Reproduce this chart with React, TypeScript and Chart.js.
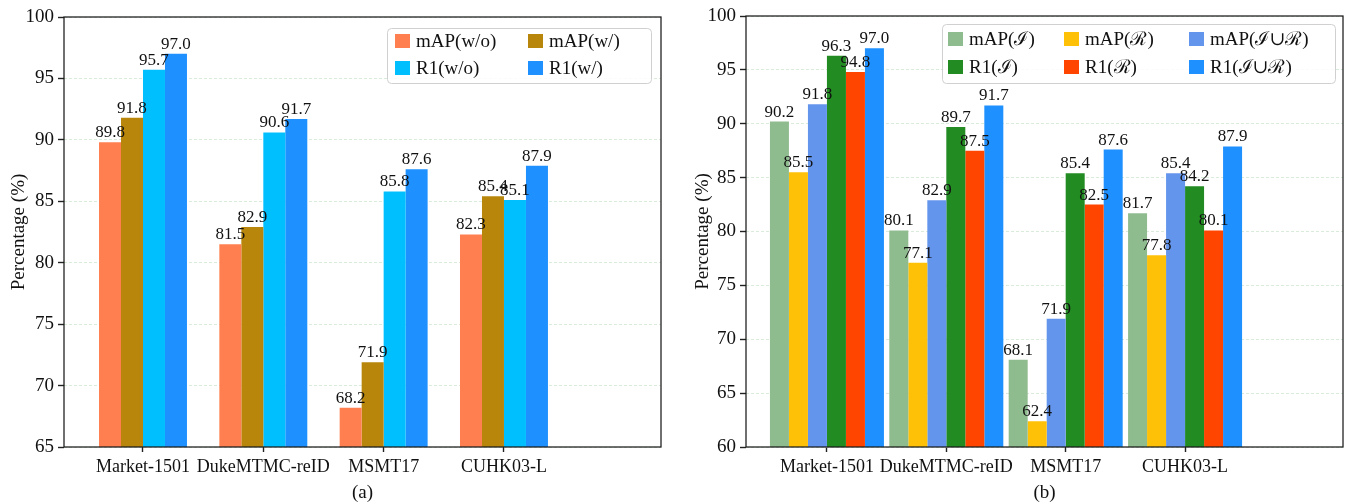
import React, { useEffect, useRef } from 'react';
import { Chart, registerables } from 'chart.js';

Chart.register(...registerables);

const FONT = "'Liberation Serif', 'DejaVu Serif', serif";

const categories = ['Market-1501', 'DukeMTMC-reID', 'MSMT17', 'CUHK03-L'];

// Panel (a)
const leftLabels = ['mAP(w/o)', 'mAP(w/)', 'R1(w/o)', 'R1(w/)'];
const mapWithout = [89.8, 81.5, 68.2, 82.3];
const mapWith = [91.8, 82.9, 71.9, 85.4];
const r1Without = [95.7, 90.6, 85.8, 85.1];
const r1With = [97.0, 91.7, 87.6, 87.9];
const leftColors = ['#FF7F50', '#B8860B', '#00BFFF', '#1E90FF'];

// Panel (b)
const rightLabels = ['mAP(ℐ)', 'mAP(ℛ)', 'mAP(ℐ∪ℛ)', 'R1(ℐ)', 'R1(ℛ)', 'R1(ℐ∪ℛ)'];
const mapI = [90.2, 80.1, 68.1, 81.7];
const mapR = [85.5, 77.1, 62.4, 77.8];
const mapIR = [91.8, 82.9, 71.9, 85.4];
const r1I = [96.3, 89.7, 85.4, 84.2];
const r1R = [94.8, 87.5, 82.5, 80.1];
const r1IR = [97.0, 91.7, 87.6, 87.9];
const rightColors = ['#8FBC8F', '#FFC107', '#6495ED', '#228B22', '#FF4500', '#1E90FF'];

type Spec = {
  labels: string[];
  series: number[][];
  colors: string[];
  yMin: number;
  yMax: number;
  xMin: number;
  xMax: number;
  catPct: number;
  yWidth: number;
  padTop: number;
  padRight: number;
  yTitlePad: number;
  xTitle: string;
  legend: { left: number; top: number; width: number; height: number; ncol: number; cols: number[]; rows: number[] };
};

function makeChart(canvas: HTMLCanvasElement, spec: Spec) {
  const datasets = spec.series.map((vals, i) => ({
    label: spec.labels[i],
    data: vals.map((v, j) => ({ x: j, y: v })),
    backgroundColor: spec.colors[i],
    borderWidth: 0,
    categoryPercentage: spec.catPct,
    barPercentage: 1.0,
  }));

  const labelPlugin = {
    id: 'valueLabels',
    afterDatasetsDraw(chart: any) {
      const ctx = chart.ctx;
      ctx.save();
      ctx.font = `17px ${FONT}`;
      ctx.fillStyle = '#111';
      ctx.textAlign = 'center';
      ctx.textBaseline = 'alphabetic';
      chart.data.datasets.forEach((ds: any, di: number) => {
        const meta = chart.getDatasetMeta(di);
        meta.data.forEach((el: any, i: number) => {
          const v = ds.data[i].y;
          ctx.fillText(v.toFixed(1), el.x, el.y - 5);
        });
      });
      // frame
      const a = chart.chartArea;
      ctx.strokeStyle = '#1a1a1a';
      ctx.lineWidth = 1.25;
      ctx.strokeRect(a.left, a.top, a.right - a.left, a.bottom - a.top);
      ctx.restore();
    },
  };

  const legendPlugin = {
    id: 'boxLegend',
    afterDraw(chart: any) {
      const ctx = chart.ctx;
      const lg = spec.legend;
      ctx.save();
      ctx.beginPath();
      (ctx as any).roundRect(lg.left + 0.5, lg.top + 0.5, lg.width, lg.height, 4);
      ctx.fillStyle = 'rgba(255,255,255,0.85)';
      ctx.fill();
      ctx.strokeStyle = '#d0d0d0';
      ctx.lineWidth = 1;
      ctx.stroke();
      ctx.font = `19px ${FONT}`;
      ctx.textBaseline = 'middle';
      ctx.textAlign = 'left';
      chart.data.datasets.forEach((ds: any, i: number) => {
        const r = Math.floor(i / lg.ncol);
        const c = i % lg.ncol;
        const x = lg.left + lg.cols[c];
        const cy = lg.top + lg.rows[r];
        ctx.fillStyle = ds.backgroundColor;
        ctx.fillRect(x, cy - 7, 15, 14);
        ctx.fillStyle = '#111';
        ctx.fillText(ds.label, x + 21, cy + 1);
      });
      ctx.restore();
    },
  };

  return new Chart(canvas, {
    type: 'bar',
    data: { datasets },
    options: {
      responsive: false,
      animation: false,
      devicePixelRatio: 1,
      layout: { padding: { top: spec.padTop, right: spec.padRight, left: 0, bottom: 0 } },
      plugins: { legend: { display: false }, tooltip: { enabled: false } },
      scales: {
        x: {
          type: 'linear',
          min: spec.xMin,
          max: spec.xMax,
          offset: false,
          afterBuildTicks: (s: any) => {
            s.ticks = categories.map((_, i) => ({ value: i }));
          },
          afterFit: (s: any) => {
            s.height = 57;
          },
          ticks: {
            autoSkip: false,
            maxRotation: 0,
            padding: 4,
            color: '#111',
            font: { family: FONT, size: 18 },
            callback: (v: any) => categories[v] ?? '',
          },
          grid: {
            offset: false,
            drawOnChartArea: false,
            drawTicks: true,
            tickLength: 5,
            tickColor: '#222',
            tickWidth: 1.4,
          },
          border: { display: false },
          title: {
            display: true,
            text: spec.xTitle,
            color: '#111',
            font: { family: FONT, size: 19 },
            padding: { top: 0, bottom: 0 },
          },
        },
        y: {
          min: spec.yMin,
          max: spec.yMax,
          afterFit: (s: any) => {
            s.width = spec.yWidth;
          },
          ticks: {
            stepSize: 5,
            padding: 4,
            color: '#111',
            font: { family: FONT, size: 19 },
          },
          grid: {
            color: '#cfe6cf',
            lineWidth: 0.8,
            tickLength: 6,
            tickColor: '#222',
            tickWidth: 1.4,
          },
          border: { display: false, dash: [3, 2] },
          title: {
            display: true,
            text: 'Percentage (%)',
            color: '#111',
            font: { family: FONT, size: 19 },
            padding: { top: spec.yTitlePad, bottom: 0 },
          },
        },
      },
    } as any,
    plugins: [labelPlugin, legendPlugin],
  });
}

const leftSpec: Spec = {
  labels: leftLabels,
  series: [mapWithout, mapWith, r1Without, r1With],
  colors: leftColors,
  yMin: 65,
  yMax: 100,
  xMin: -0.6565,
  xMax: 4.305,
  catPct: 0.731,
  yWidth: 64,
  padTop: 17,
  padRight: 14,
  yTitlePad: 8,
  xTitle: '(a)',
  legend: { left: 387, top: 28, width: 264, height: 55, ncol: 2, cols: [8, 141], rows: [13, 40] },
};

const rightSpec: Spec = {
  labels: rightLabels,
  series: [mapI, mapR, mapIR, r1I, r1R, r1IR],
  colors: rightColors,
  yMin: 60,
  yMax: 100,
  xMin: -0.678,
  xMax: 4.323,
  catPct: 0.955,
  yWidth: 71,
  padTop: 16,
  padRight: 7,
  yTitlePad: 17,
  xTitle: '(b)',
  legend: { left: 267, top: 24, width: 393, height: 59, ncol: 3, cols: [6, 122, 247], rows: [15, 43] },
};

export default function App() {
  const leftRef = useRef<HTMLCanvasElement>(null);
  const rightRef = useRef<HTMLCanvasElement>(null);

  useEffect(() => {
    Chart.defaults.font.family = FONT;
    const a = makeChart(leftRef.current!, leftSpec);
    const b = makeChart(rightRef.current!, rightSpec);
    return () => {
      a.destroy();
      b.destroy();
    };
  }, []);

  return (
    <div style={{ position: 'fixed', left: 0, top: 0, width: 1350, height: 504, background: '#fff' }}>
      <canvas ref={leftRef} width={675} height={504} style={{ position: 'absolute', left: 0, top: 0, width: 675, height: 504 }} />
      <canvas ref={rightRef} width={675} height={504} style={{ position: 'absolute', left: 675, top: 0, width: 675, height: 504 }} />
    </div>
  );
}
